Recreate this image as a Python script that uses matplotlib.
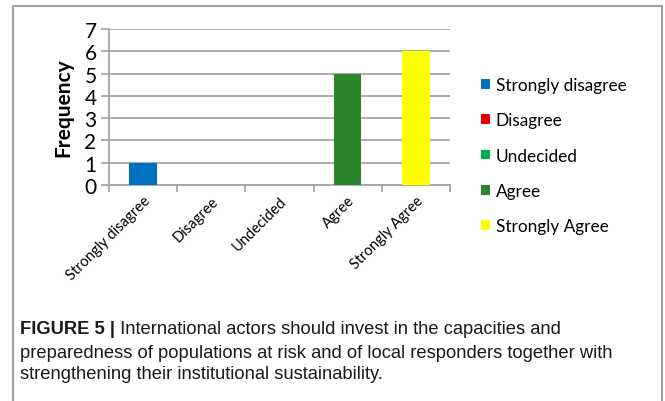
import matplotlib
matplotlib.use("Agg")
import matplotlib.pyplot as plt
from matplotlib.lines import Line2D

# survey responses
categories = ["Strongly disagree", "Disagree", "Undecided", "Agree", "Strongly Agree"]
frequency = [1, 0, 0, 5, 6]
colors = ["#0070C0", "#E60000", "#00B050", "#2A862A", "#FFFF00"]
yticks = [0, 1, 2, 3, 4, 5, 6, 7]

caption_bold = "FIGURE 5 |"
caption_lines = [
    " International actors should invest in the capacities and",
    "preparedness of populations at risk and of local responders together with",
    "strengthening their institutional sustainability.",
]

W, H = 665, 402
fig = plt.figure(figsize=(W / 100, H / 100), dpi=100)
plt.rcParams["font.family"] = ["Lato", "DejaVu Sans"]

# axes placed in pixel terms of the reference
x0, x1, ytop, ybot = 109, 450, 30, 186
ax = fig.add_axes([x0 / W, 1 - ybot / H, (x1 - x0) / W, (ybot - ytop) / H])

grey = "#a6a6a6"
xs = list(range(len(categories)))
for x, v, c, name in zip(xs, frequency, colors, categories):
    ax.bar(x, v, width=0.4, color=c, label=name, zorder=3)

ax.set_xlim(-0.5, len(categories) - 0.5)
ax.set_ylim(0, 7)
ax.set_yticks(yticks)
ax.set_yticklabels([str(t) for t in yticks], fontsize=15)
ax.yaxis.grid(True, color=grey, linewidth=1.3, zorder=0)
ax.set_axisbelow(True)

# category boundaries carry the x tick marks
ax.set_xticks([x - 0.5 for x in xs] + [len(xs) - 0.5], minor=False)
ax.set_xticklabels([])
ax.set_xticks(xs, minor=True)
ax.set_xticklabels(categories, minor=True, rotation=45, ha="right",
                   va="top", rotation_mode="anchor", fontsize=10.5)
ax.tick_params(axis="x", which="minor", length=0, pad=6)
ax.tick_params(axis="x", which="major", length=5, color=grey, width=1.3)
ax.tick_params(axis="y", length=6, color=grey, width=1.3, pad=3)

for s in ["top", "right"]:
    ax.spines[s].set_visible(False)
for s in ["left", "bottom"]:
    ax.spines[s].set_color(grey)
    ax.spines[s].set_linewidth(1.3)

ax.set_ylabel("Frequency", fontsize=15, fontweight="bold", labelpad=8)

fig.legend(loc="upper left", bbox_to_anchor=(481 / W, 1 - 78 / H),
           frameon=False, fontsize=12.4, handlelength=0.5, handleheight=0.5,
           handletextpad=0.35, labelspacing=1.12, borderaxespad=0, borderpad=0)

# outer frame
frame_kw = dict(color="#a0a0a0", linewidth=1.5)
fig.add_artist(Line2D([13 / W, 13 / W], [0, 1 - 7 / H], transform=fig.transFigure, **frame_kw))
fig.add_artist(Line2D([662 / W, 662 / W], [0, 1 - 7 / H], transform=fig.transFigure, **frame_kw))
fig.add_artist(Line2D([13 / W, 662 / W], [1 - 7 / H, 1 - 7 / H], transform=fig.transFigure, **frame_kw))

# caption with bold lead-in
cap_font = ["Liberation Sans", "DejaVu Sans"]
cap_size = 13.2
line_y = [330, 353, 375]
tb = fig.text(20 / W, 1 - line_y[0] / H, caption_bold, fontsize=cap_size,
              fontweight="bold", family=cap_font, va="center", color="#1a1a1a")
fig.canvas.draw()
bb = tb.get_window_extent(fig.canvas.get_renderer())
fig.text(bb.x1 / W, 1 - line_y[0] / H, caption_lines[0], fontsize=cap_size,
         family=cap_font, va="center", color="#1a1a1a")
for ly, txt in zip(line_y[1:], caption_lines[1:]):
    fig.text(20 / W, 1 - ly / H, txt, fontsize=cap_size, family=cap_font,
             va="center", color="#1a1a1a")

fig.savefig("out.png", dpi=100)
